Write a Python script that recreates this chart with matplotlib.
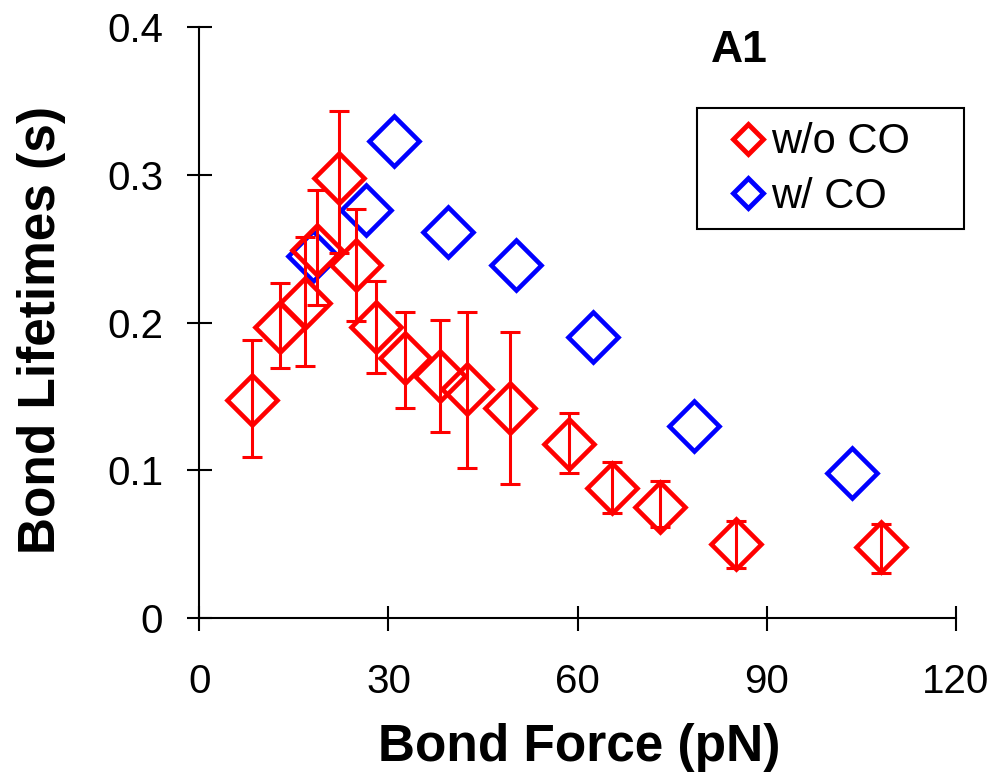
import numpy as np
import matplotlib
matplotlib.use("Agg")
import matplotlib.pyplot as plt
from matplotlib.lines import Line2D
from matplotlib.patches import Rectangle

plt.rcParams["font.family"] = ["Liberation Sans", "DejaVu Sans"]

# w/o CO: force, lifetime, lower / upper end of error bar
force_wo = [8.3, 12.8, 16.7, 18.6, 22.2, 24.8, 28.0, 32.7, 38.1, 42.4,
            49.3, 58.6, 65.5, 73.1, 85.1, 108.1]
life_wo = [0.148, 0.197, 0.213, 0.249, 0.298, 0.239, 0.197, 0.176, 0.164, 0.155,
           0.142, 0.118, 0.088, 0.0755, 0.050, 0.048]
lo_wo = [0.109, 0.169, 0.171, 0.212, 0.247, 0.201, 0.166, 0.142, 0.126, 0.102,
         0.091, 0.098, 0.071, 0.062, 0.034, 0.031]
hi_wo = [0.188, 0.227, 0.258, 0.290, 0.343, 0.277, 0.228, 0.207, 0.202, 0.207,
         0.194, 0.139, 0.106, 0.093, 0.066, 0.064]

# w/ CO
force_w = [18.0, 26.4, 30.8, 39.5, 50.3, 62.5, 78.5, 103.5]
life_w = [0.245, 0.276, 0.323, 0.261, 0.239, 0.190, 0.130, 0.098]

RED = "#ff0000"
BLUE = "#0000ff"
W, H = 995, 777

fig = plt.figure(figsize=(9.95, 7.77), dpi=100, facecolor="white")
ax = fig.add_axes([0.2003, 0.2042, 0.7605, 0.7611])

lw = np.array(life_wo)
yerr = [lw - np.array(lo_wo), np.array(hi_wo) - lw]
ax.plot(force_w, life_w, ls="none", marker="D", ms=25, mfc="none", mec=BLUE,
        mew=3.3, zorder=3)
ax.plot(force_wo, life_wo, ls="none", marker="D", ms=25, mfc="none", mec=RED,
        mew=3.3, zorder=4)
ax.errorbar(force_wo, life_wo, yerr=yerr, fmt="none", ecolor=RED, elinewidth=2.2,
            capsize=7, capthick=2.2, zorder=5)

ax.set_xlim(0, 120)
ax.set_ylim(0, 0.4)
ax.set_xticks([0, 30, 60, 90, 120])
ax.set_yticks([0, 0.1, 0.2, 0.3, 0.4])
ax.set_yticklabels(["0", "0.1", "0.2", "0.3", "0.4"])
for s in ["top", "right"]:
    ax.spines[s].set_visible(False)
for s in ["left", "bottom"]:
    ax.spines[s].set_linewidth(1.5)
ax.tick_params(direction="inout", length=18, width=1.5, labelsize=29)
ax.tick_params(axis="y", pad=17)
ax.tick_params(axis="x", pad=23)

# axis titles placed in pixels like the reference
fig.text(579 / W, 1 - 748 / H, "Bond Force (pN)", fontsize=37, fontweight="bold",
         ha="center", va="center")
fig.text(42 / W, 1 - 330 / H, "Bond Lifetimes (s)", fontsize=37, fontweight="bold",
         ha="center", va="center", rotation=90)

fig.text(739 / W, 1 - 50 / H, "A1", fontsize=32, fontweight="bold",
         ha="center", va="center")

# legend box drawn by hand, entries without frame
fig.add_artist(Rectangle((696.7 / W, 1 - 229.3 / H), (964 - 696.7) / W,
                         (229.3 - 108.3) / H, transform=fig.transFigure,
                         fill=False, ec="black", lw=1.5))
handles = [Line2D([0], [0], ls="none", marker="D", ms=15, mfc="none", mec=RED,
                  mew=3.5, label="w/o CO"),
           Line2D([0], [0], ls="none", marker="D", ms=15, mfc="none", mec=BLUE,
                  mew=3.5, label="w/ CO")]
leg = fig.legend(handles=handles, loc="center left",
                 bbox_to_anchor=(731 / W, 1 - 169.5 / H), fontsize=30,
                 frameon=False, handlelength=0.8, handletextpad=0.15,
                 borderpad=0, labelspacing=0.35, borderaxespad=0)

fig.savefig("out.png", dpi=100, facecolor="white")
